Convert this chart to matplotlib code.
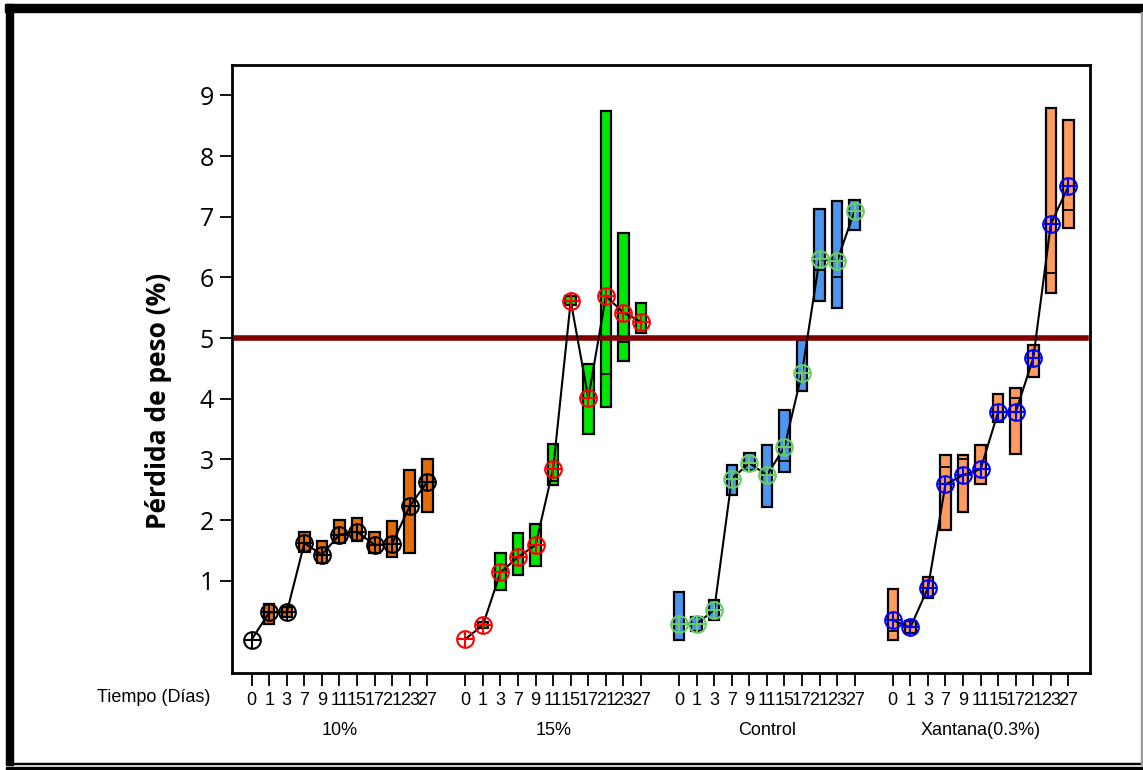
import matplotlib.pyplot as plt
from matplotlib.patches import Rectangle
from matplotlib import font_manager

# Tiempo (días) y grupos
days = [0, 1, 3, 7, 9, 11, 15, 17, 21, 23, 27]
groups = ['10%', '15%', 'Control', 'Xantana(0.3%)']

# medias (marcadores), cuantiles (cajas) y medianas por grupo
mean_10 = [0.03, 0.48, 0.48, 1.62, 1.43, 1.76, 1.81, 1.59, 1.61, 2.23, 2.63]
low_10 = [0.0, 0.29, 0.41, 1.48, 1.29, 1.62, 1.65, 1.46, 1.39, 1.46, 2.13]
high_10 = [0.0, 0.62, 0.57, 1.81, 1.65, 2.00, 2.03, 1.80, 1.98, 2.82, 3.00]
med_10 = [0.0, 0.48, 0.48, 1.62, 1.43, 1.76, 1.81, 1.59, 1.61, 2.23, 2.63]

mean_15 = [0.04, 0.27, 1.14, 1.39, 1.59, 2.85, 5.61, 4.01, 5.69, 5.42, 5.27]
low_15 = [0.0, 0.22, 0.84, 1.09, 1.25, 2.58, 5.55, 3.42, 3.87, 4.62, 5.08]
high_15 = [0.0, 0.32, 1.45, 1.78, 1.94, 3.26, 5.70, 4.58, 8.75, 6.73, 5.57]
med_15 = [0.0, 0.27, 1.14, 1.39, 1.59, 2.65, 5.61, 4.01, 4.40, 4.94, 5.27]

mean_ctrl = [0.29, 0.29, 0.52, 2.68, 2.94, 2.74, 3.20, 4.43, 6.30, 6.27, 7.10]
low_ctrl = [0.03, 0.17, 0.35, 2.42, 2.83, 2.22, 2.80, 4.13, 5.61, 5.49, 6.78]
high_ctrl = [0.81, 0.41, 0.68, 2.91, 3.10, 3.23, 3.81, 4.97, 7.13, 7.26, 7.27]
med_ctrl = [0.29, 0.29, 0.52, 2.68, 2.94, 2.74, 2.97, 4.43, 6.12, 6.01, 7.10]

mean_xan = [0.35, 0.23, 0.88, 2.59, 2.74, 2.84, 3.78, 3.78, 4.67, 6.88, 7.50]
low_xan = [0.03, 0.14, 0.71, 1.83, 2.13, 2.59, 3.62, 3.09, 4.36, 5.75, 6.82]
high_xan = [0.87, 0.33, 1.07, 3.07, 3.07, 3.23, 4.07, 4.18, 4.88, 8.79, 8.60]
med_xan = [0.18, 0.23, 0.88, 2.87, 3.01, 2.84, 3.78, 4.02, 4.67, 6.07, 7.11]

limite = 5.0

series = [
    (mean_10, low_10, high_10, med_10, '#E46C0A', 'black'),
    (mean_15, low_15, high_15, med_15, '#00E800', '#FF0000'),
    (mean_ctrl, low_ctrl, high_ctrl, med_ctrl, '#4A96F0', '#66CC66'),
    (mean_xan, low_xan, high_xan, med_xan, '#FF9B5E', '#0000FF'),
]

names = {f.name for f in font_manager.fontManager.ttflist}
narrow = 'Liberation Sans Narrow' if 'Liberation Sans Narrow' in names else 'Liberation Sans'

W, H = 1143, 770
fig = plt.figure(figsize=(W / 100, H / 100), dpi=100)
ax = fig.add_axes([232 / W, 1 - 673 / H, (1090 - 232) / W, (673 - 65) / H])

stride = 12.17
ticks = []
labels = []
for g, (m, lo, hi, md, box_col, mk_col) in enumerate(series):
    xs = [g * stride + i for i in range(len(days))]
    ticks += xs
    labels += [str(d) for d in days]
    for x, a, b, c in zip(xs, lo, hi, md):
        if b - a > 0.001:
            ax.bar(x, b - a, bottom=a, width=0.6, color=box_col,
                   edgecolor='black', linewidth=1.6, zorder=2)
            ax.hlines(c, x - 0.3, x + 0.3, color='black', lw=1.3, zorder=2.5)
    ax.plot(xs, m, color='black', lw=1.5, zorder=4)
    ax.plot(xs, m, 'o', ms=12, mfc='none', mec=mk_col, mew=1.5, zorder=5)
    ax.plot(xs, m, '+', ms=12, mec=mk_col, mew=1.5, zorder=5)
    ax.text(g * stride + 5, -0.08, groups[g], transform=ax.get_xaxis_transform(),
            ha='center', va='top', fontsize=13, family=narrow)

ax.axhline(limite, xmin=0.005, xmax=0.995, color='#800000', lw=4, zorder=3)

ax.set_xlim(-1.12, 47.74)
ax.set_ylim(-0.52, 9.5)
ax.set_xticks(ticks)
ax.set_xticklabels(labels, family=narrow, fontsize=13)
ax.set_yticks(range(1, 10))
ax.set_yticklabels([str(v) for v in range(1, 10)], family='Open Sans', fontsize=18)
ax.tick_params(axis='both', direction='out', length=9, width=1.3, color='black')
ax.tick_params(axis='x', pad=5)
ax.tick_params(axis='y', pad=4)
for s in ax.spines.values():
    s.set_linewidth(2)

ax.set_ylabel('Pérdida de peso (%)', family='Open Sans', fontsize=19,
              fontweight='bold')
ax.yaxis.set_label_coords(-0.070, (673 - 401) / 608)
fig.text(210 / W, 1 - 697 / H, 'Tiempo (Días)', ha='right', va='center',
         fontsize=13, family=narrow)

# marco exterior
fig.patches.append(Rectangle((5 / W, 1 - 12 / H), 1, 8 / H, transform=fig.transFigure,
                             color='black', zorder=0))
fig.patches.append(Rectangle((6 / W, 1 - 765 / H), 7 / W, 761 / H, transform=fig.transFigure,
                             color='black', zorder=0))
fig.patches.append(Rectangle((6 / W, 0), 1, 3 / H, transform=fig.transFigure,
                             color='black', zorder=0))
fig.patches.append(Rectangle((6 / W, 1 - 764 / H), 1, 1.5 / H, transform=fig.transFigure,
                             color='black', zorder=0))
fig.patches.append(Rectangle((1141 / W, 1 - 765 / H), 1.5 / W, 753 / H, transform=fig.transFigure,
                             color='#999999', zorder=0))

fig.savefig('out.png', dpi=100)
